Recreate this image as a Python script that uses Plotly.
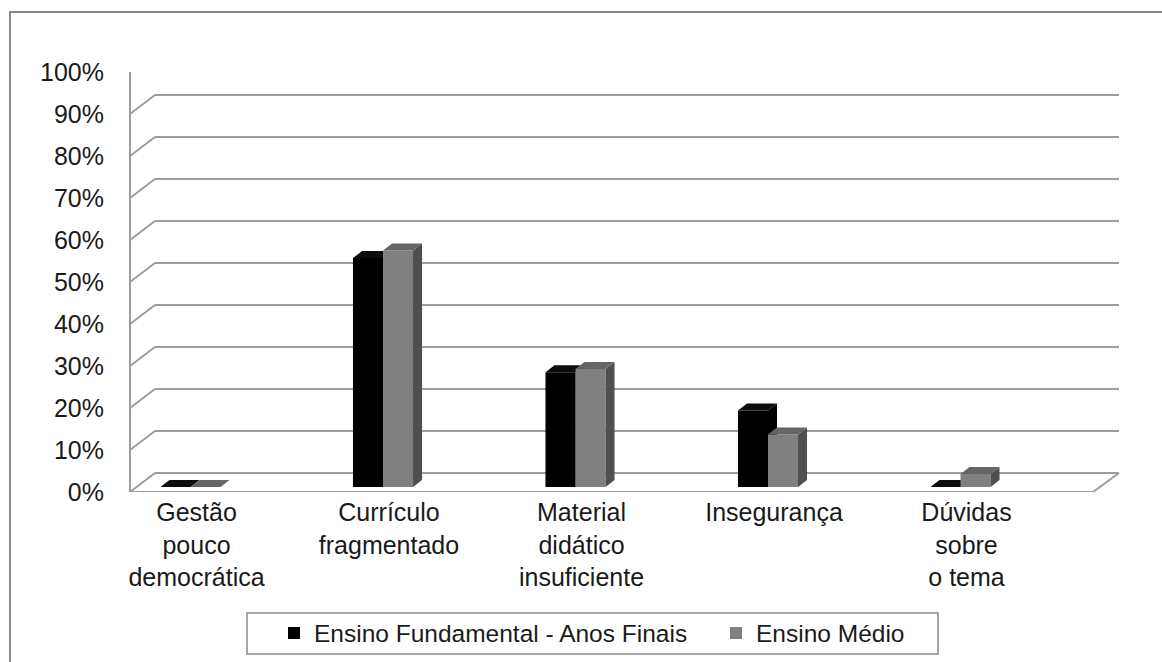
import plotly.graph_objects as go

# ---------------- data ----------------
categories = ["Gestão<br>pouco<br>democrática", "Currículo<br>fragmentado",
              "Material<br>didático<br>insuficiente", "Insegurança",
              "Dúvidas<br>sobre<br>o tema"]
series_names = ["Ensino Fundamental - Anos Finais", "Ensino Médio"]
fundamental = [0.0, 54.5, 27.3, 18.2, 0.0]
medio = [0.0, 56.3, 28.1, 12.5, 3.1]
y_ticks = [0, 10, 20, 30, 40, 50, 60, 70, 80, 90, 100]
y_ticktext = [f"{v}%" for v in y_ticks]

# ---------------- layout constants (pixels) ----------------
W, H = 1162, 662
def px(x):
    return x / W
def py(y):
    return 1 - y / H

FONT = "Liberation Sans, Arial, sans-serif"
TXT = "#1a1a1a"
GRID = "#9c9c9c"

FRONT0, FRONT100 = 492, 72
BACK0, BACK100 = 473, 53
BAR0, BAR100 = 487, 67
BAR_X0, BAR_X1 = 94.25, 1056.75
BARGAP = 0.688
DEPTH_PX_X, DEPTH_PX_Y = 9, 7

unit_y = (FRONT0 - FRONT100) / 100.0
bar_unit_x = (BAR_X1 - BAR_X0) / 5.0
bar_unit_y = (BAR0 - BAR100) / 100.0
wall_dy = (FRONT0 - BACK0) / unit_y
dx = DEPTH_PX_X / bar_unit_x
dy = DEPTH_PX_Y / bar_unit_y
w = (1 - BARGAP) / 2

idx = list(range(len(categories)))

fig = go.Figure()
# empty trace so the back-wall subplot is created
fig.add_trace(go.Scatter(x=[], y=[], xaxis="x2", yaxis="y2", showlegend=False,
                         hoverinfo="skip"))
colors = ["#000000", "#808080"]
for name, vals, col in zip(series_names, [fundamental, medio], colors):
    fig.add_trace(go.Bar(x=idx, y=vals, name=name, marker=dict(color=col, line=dict(width=0)),
                         xaxis="x3", yaxis="y3", hoverinfo="skip"))

shapes = []
# outer border
shapes.append(dict(type="rect", xref="paper", yref="paper", x0=px(10), x1=px(1180),
                   y0=py(12), y1=py(690), line=dict(color="#8a8a8a", width=2),
                   fillcolor="rgba(0,0,0,0)", layer="below"))
# legend box
shapes.append(dict(type="rect", xref="paper", yref="paper", x0=px(247), x1=px(938),
                   y0=py(654), y1=py(613), line=dict(color="#8a8a8a", width=1.5),
                   fillcolor="rgba(0,0,0,0)", layer="above"))
# left wall connectors
for v in y_ticks:
    shapes.append(dict(type="line", xref="paper", yref="y", x0=px(130), x1=px(155),
                       y0=v, y1=v + wall_dy, line=dict(color=GRID, width=2), layer="below"))
# floor front edge and right edge
shapes.append(dict(type="line", xref="paper", yref="y", x0=px(130), x1=px(1093), y0=0, y1=0,
                   line=dict(color=GRID, width=2), layer="below"))
shapes.append(dict(type="line", xref="paper", yref="y", x0=px(1093), x1=px(1119), y0=0, y1=wall_dy,
                   line=dict(color=GRID, width=2), layer="below"))

# 3D faces of the bars
face_cols = [("#0d0d0d", "#000000", "between"), ("#666666", "#4f4f4f", "above")]
for s, vals in enumerate([fundamental, medio]):
    top_col, side_col, layer = face_cols[s]
    for i, v in zip(idx, vals):
        left = i - w + s * w
        right = left + w
        top_path = (f"M{left},{v} L{right},{v} L{right+dx},{v+dy} L{left+dx},{v+dy} Z")
        side_path = (f"M{right},0 L{right+dx},{dy} L{right+dx},{v+dy} L{right},{v} Z")
        if v > 0:
            shapes.append(dict(type="path", xref="x3", yref="y3", path=side_path,
                               fillcolor=side_col, line=dict(width=0), layer=layer))
        shapes.append(dict(type="path", xref="x3", yref="y3", path=top_path,
                           fillcolor=top_col, line=dict(width=0), layer=layer))

fig.update_layout(
    width=W, height=H,
    margin=dict(l=0, r=0, t=0, b=0, autoexpand=False),
    paper_bgcolor="white", plot_bgcolor="rgba(0,0,0,0)",
    font=dict(family=FONT, size=24, color=TXT),
    barmode="group", bargap=BARGAP, bargroupgap=0,
    showlegend=True,
    legend=dict(orientation="h", xanchor="left", x=px(274), yanchor="middle", y=py(633),
                borderwidth=0, bgcolor="rgba(0,0,0,0)", itemwidth=30,
                entrywidth=397, entrywidthmode="pixels",
                font=dict(family=FONT, size=24.5, color=TXT)),
    xaxis=dict(domain=[px(BAR_X0 + 6), px(BAR_X1 + 6)], range=[-0.5, 4.5],
               tickvals=idx, ticktext=categories, showgrid=False, zeroline=False,
               showline=False, ticks="", tickfont=dict(size=25), anchor="y",
               ticklabelstandoff=3, fixedrange=True),
    yaxis=dict(domain=[py(FRONT0), py(FRONT100)], range=[0, 100], tickvals=y_ticks,
               ticktext=y_ticktext, showgrid=False, zeroline=False, showline=True,
               linecolor=GRID, linewidth=2, ticks="", anchor="free", position=px(130),
               ticklabelstandoff=20, tickfont=dict(size=25), fixedrange=True),
    xaxis2=dict(domain=[px(155), px(1119)], range=[0, 1], showgrid=False, zeroline=False,
                showline=False, showticklabels=False, ticks="", anchor="y2", fixedrange=True),
    yaxis2=dict(domain=[py(BACK0), py(BACK100)], range=[0, 100], tickvals=y_ticks,
                showgrid=True, gridcolor=GRID, gridwidth=2, zeroline=True,
                zerolinecolor=GRID, zerolinewidth=2, showline=False, showticklabels=False,
                ticks="", anchor="x2", fixedrange=True),
    xaxis3=dict(domain=[px(BAR_X0), px(BAR_X1)], range=[-0.5, 4.5], visible=False,
                anchor="y3", fixedrange=True),
    yaxis3=dict(domain=[py(BAR0), py(BAR100)], range=[0, 100], visible=False,
                anchor="x3", fixedrange=True),
    shapes=shapes,
)

fig.write_html("out.html")
